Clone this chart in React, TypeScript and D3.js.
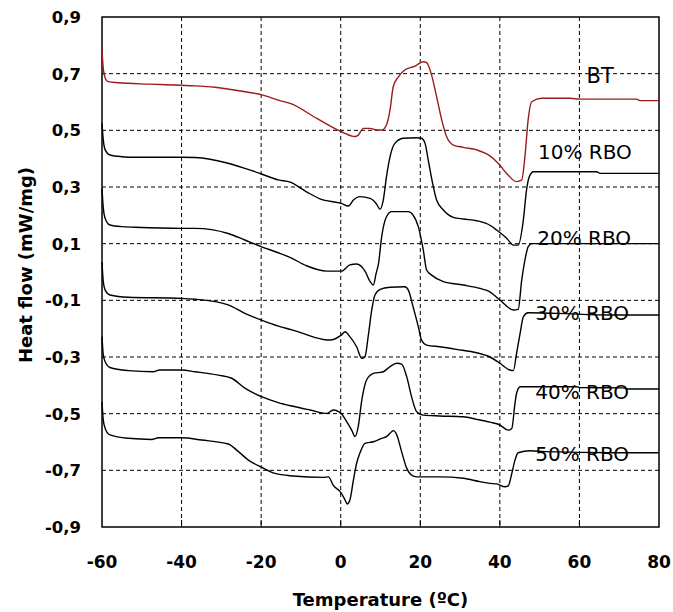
import React from 'react'
import * as d3 from 'd3'

// temperature (ºC), heat flow (mW/mg)
const bt: [number, number][] = [
  [-60, 0.784], [-59.7, 0.72], [-59.2, 0.685], [-58.5, 0.672], [-56, 0.668], [-48, 0.663],
  [-40, 0.659], [-36.6, 0.657], [-31.6, 0.652], [-24, 0.636], [-19.8, 0.625], [-15.3, 0.605],
  [-12.7, 0.595], [-6, 0.542], [0.2, 0.495], [3.6, 0.478], [4.4, 0.483], [5.7, 0.507],
  [7.4, 0.507], [9, 0.501], [10.3, 0.501], [11.5, 0.519], [12.4, 0.572], [13.2, 0.654],
  [14.5, 0.689], [16.1, 0.713], [18.7, 0.727], [20.75, 0.742], [21.6, 0.739], [22.85, 0.695],
  [24.1, 0.619], [25.4, 0.536], [26.6, 0.478], [28.3, 0.448], [30.8, 0.44], [34.2, 0.431],
  [37.5, 0.41], [39.5, 0.385], [41.7, 0.348], [44.2, 0.319], [45.5, 0.325], [46.3, 0.407],
  [47.1, 0.536], [48, 0.601], [50.5, 0.613], [57.6, 0.613], [60.1, 0.61], [74.4, 0.61],
  [75.2, 0.605], [80, 0.605],
]

const rbo10: [number, number][] = [
  [-60, 0.525], [-59.7, 0.47], [-59.2, 0.431], [-58, 0.413], [-55, 0.407], [-51.7, 0.405],
  [-40, 0.405], [-36.6, 0.404], [-28.3, 0.384], [-24.1, 0.366], [-19.9, 0.346], [-15.7, 0.325],
  [-12.7, 0.317], [-8.6, 0.283], [-5.2, 0.258], [0.2, 0.242], [1.9, 0.233], [3.2, 0.254],
  [4.8, 0.266], [7.4, 0.26], [8.9, 0.242], [9.9, 0.222], [10.7, 0.254], [11.5, 0.336],
  [12.4, 0.407], [13.6, 0.454], [15.7, 0.472], [19.1, 0.474], [20.3, 0.472], [21.2, 0.454],
  [22, 0.395], [23.1, 0.313], [24.1, 0.254], [25.8, 0.219], [28.3, 0.193], [30.8, 0.187],
  [34.2, 0.181], [37.5, 0.165], [39.2, 0.148], [41.7, 0.119], [43.4, 0.095], [44.6, 0.095],
  [45.9, 0.183], [46.7, 0.289], [47.4, 0.336], [48.4, 0.354], [64.3, 0.354], [65.2, 0.348],
  [80, 0.348],
]

const rbo20: [number, number][] = [
  [-60, 0.295], [-59.7, 0.23], [-59.2, 0.189], [-58, 0.166], [-55, 0.16], [-51.7, 0.158],
  [-40, 0.154], [-36.6, 0.154], [-28.3, 0.136], [-24.1, 0.113], [-19.9, 0.089], [-15.7, 0.068],
  [-12.5, 0.05], [-8.6, 0.022], [-3.5, 0.003], [0.2, 0.003], [2.3, 0.025], [4, 0.028],
  [6.1, 0.003], [7.4, -0.034], [8.2, -0.046], [8.9, -0.005], [9.5, 0.03], [10.3, 0.125],
  [11.5, 0.195], [12.8, 0.213], [16.95, 0.213], [18.2, 0.201], [19.5, 0.16], [20.75, 0.078],
  [21.6, 0.007], [22.85, -0.011], [25.8, -0.034], [30.8, -0.046], [35, -0.058], [37.5, -0.07],
  [40, -0.099], [43.4, -0.134], [44.6, -0.132], [45.5, -0.028], [46.3, 0.042], [47.1, 0.089],
  [48, 0.1], [80, 0.1],
]

const rbo30: [number, number][] = [
  [-60, 0.035], [-59.7, -0.03], [-59.2, -0.064], [-58, -0.081], [-53.4, -0.089], [-40, -0.093],
  [-36.6, -0.096], [-28.3, -0.116], [-24.1, -0.146], [-19.9, -0.17], [-15.7, -0.191], [-12, -0.205],
  [-4.4, -0.238], [-2.7, -0.24], [0.2, -0.222], [1.1, -0.211], [2.3, -0.228], [4, -0.264],
  [5.3, -0.305], [6.1, -0.299], [6.9, -0.228], [7.8, -0.134], [8.6, -0.081], [9.9, -0.061],
  [12.4, -0.054], [16.1, -0.052], [17, -0.064], [18.2, -0.123], [19.5, -0.193], [20.3, -0.24],
  [21.6, -0.258], [24.9, -0.264], [29.1, -0.273], [34.2, -0.285], [37.5, -0.3], [40, -0.322],
  [42.5, -0.346], [43.4, -0.348], [44.2, -0.287], [45.1, -0.216], [45.9, -0.158], [47.1, -0.144],
  [54.3, -0.146], [67.7, -0.152], [80, -0.152],
]

const rbo40: [number, number][] = [
  [-60, -0.228], [-59.7, -0.29], [-59.2, -0.317], [-58, -0.337], [-53.4, -0.348], [-47.1, -0.352],
  [-45.5, -0.346], [-40, -0.346], [-36.6, -0.352], [-30.8, -0.364], [-27.4, -0.375], [-24.1, -0.41],
  [-19.9, -0.44], [-15.7, -0.461], [-12, -0.474], [-7.7, -0.487], [-3.5, -0.499], [-1.9, -0.487],
  [0.2, -0.501], [1.5, -0.528], [2.75, -0.558], [3.6, -0.581], [4.4, -0.546], [5.3, -0.452],
  [6.5, -0.381], [8.2, -0.358], [10.7, -0.352], [12.4, -0.334], [14.1, -0.322], [15.3, -0.325],
  [16.6, -0.37], [17.8, -0.44], [19.1, -0.493], [20.75, -0.505], [24.9, -0.508], [30.8, -0.511],
  [34.2, -0.52], [37.5, -0.53], [40, -0.54], [42.1, -0.558], [43, -0.552], [43.8, -0.464],
  [44.2, -0.428], [45.1, -0.405], [59.3, -0.405], [60.1, -0.408], [71, -0.409], [72, -0.413],
  [80, -0.413],
]

const rbo50: [number, number][] = [
  [-60, -0.458], [-59.7, -0.52], [-59.2, -0.552], [-58, -0.575], [-53.4, -0.587], [-47.5, -0.591],
  [-45.8, -0.585], [-40, -0.585], [-35, -0.593], [-28.3, -0.607], [-25.7, -0.634], [-23.2, -0.664],
  [-19.9, -0.689], [-16.5, -0.711], [-12, -0.72], [-4.4, -0.725], [-3.1, -0.723], [-1.9, -0.752],
  [0.2, -0.781], [1.1, -0.805], [1.65, -0.819], [2.3, -0.805], [3.2, -0.734], [4, -0.675],
  [4.8, -0.64], [6.1, -0.605], [8.2, -0.599], [10.3, -0.587], [11.5, -0.581], [12.8, -0.564],
  [13.2, -0.56], [14.1, -0.575], [15.3, -0.634], [16.6, -0.693], [17.8, -0.717], [19.1, -0.723],
  [24.9, -0.723], [30.8, -0.728], [35, -0.74], [37.5, -0.746], [39.2, -0.748], [41.3, -0.758],
  [42.1, -0.755], [43, -0.711], [43.8, -0.664], [44.6, -0.638], [47.6, -0.631], [51.3, -0.634],
  [68.5, -0.638], [80, -0.638],
]

const seriesNames = ['BT', '10% RBO', '20% RBO', '30% RBO', '40% RBO', '50% RBO']
const seriesData = [bt, rbo10, rbo20, rbo30, rbo40, rbo50]
const seriesColors = ['#9a1b1b', '#000', '#000', '#000', '#000', '#000']
// label anchor in data units (x, y of baseline)
const labelPos: [number, number][] = [
  [61.8, 0.6675], [49.6, 0.4], [49.4, 0.0955], [48.9, -0.1685], [48.9, -0.4465], [48.9, -0.6655],
]

const xTicks = [-60, -40, -20, 0, 20, 40, 60, 80]
const yTicks = [-0.9, -0.7, -0.5, -0.3, -0.1, 0.1, 0.3, 0.5, 0.7, 0.9]

const W = 673
const H = 612
const margin = { left: 102, right: 14, top: 17, bottom: 85 }

export default function App() {
  const x = d3.scaleLinear().domain([-60, 80]).range([margin.left, W - margin.right])
  const y = d3.scaleLinear().domain([-0.9, 0.9]).range([H - margin.bottom, margin.top])
  const line = d3
    .line<[number, number]>()
    .x(d => x(d[0]))
    .y(d => y(d[1]))
    .curve(d3.curveMonotoneX)

  const x0 = x.range()[0]
  const x1 = x.range()[1]
  const y0 = y.range()[0]
  const y1 = y.range()[1]
  const fmt = (v: number) => v.toFixed(1).replace('.', ',')
  const bold = { fontFamily: 'DejaVu Sans', fontWeight: 'bold' as const }

  return (
    <svg width={W} height={H} style={{ position: 'absolute', left: 0, top: 0, background: '#fff' }}>
      {/* grid */}
      <g stroke="#000" strokeWidth={1} strokeDasharray="4,3">
        {xTicks.slice(1, -1).map(t => (
          <line key={'gx' + t} x1={x(t)} x2={x(t)} y1={y1} y2={y0} />
        ))}
        {yTicks.slice(1, -1).map(t => (
          <line key={'gy' + t} x1={x0} x2={x1} y1={y(t)} y2={y(t)} />
        ))}
      </g>
      <g stroke="#000" strokeWidth={1}>
        {xTicks.slice(1, -1).map(t => (
          <line key={'tx' + t} x1={x(t)} x2={x(t)} y1={y0} y2={y0 - 7} />
        ))}
      </g>
      <rect x={x0} y={y1} width={x1 - x0} height={y0 - y1} fill="none" stroke="#000" strokeWidth={1.5} />

      {seriesData.map((d, i) => (
        <path key={seriesNames[i]} d={line(d) || ''} fill="none" stroke={seriesColors[i]} strokeWidth={1.4} />
      ))}

      {seriesNames.map((n, i) => (
        <text
          key={'l' + n}
          x={x(labelPos[i][0])}
          y={y(labelPos[i][1])}
          fontFamily="DejaVu Sans"
          fontSize={i === 0 ? 21 : 20}
          fill="#000"
        >
          {n}
        </text>
      ))}

      {/* axes labels */}
      {yTicks.map(t => (
        <text key={'yl' + t} x={81} y={y(t)} dy="0.36em" textAnchor="end" fontSize={16.5} {...bold}>
          {fmt(t)}
        </text>
      ))}
      {xTicks.map(t => (
        <text key={'xl' + t} x={x(t)} y={568} textAnchor="middle" fontSize={17} {...bold}>
          {t}
        </text>
      ))}
      <text x={(x0 + x1) / 2} y={606} textAnchor="middle" fontSize={18} {...bold}>
        Temperature (ºC)
      </text>
      <text
        transform={`translate(32,${(y0 + y1) / 2 - 7}) rotate(-90)`}
        textAnchor="middle"
        fontSize={18}
        {...bold}
      >
        Heat flow (mW/mg)
      </text>
    </svg>
  )
}
